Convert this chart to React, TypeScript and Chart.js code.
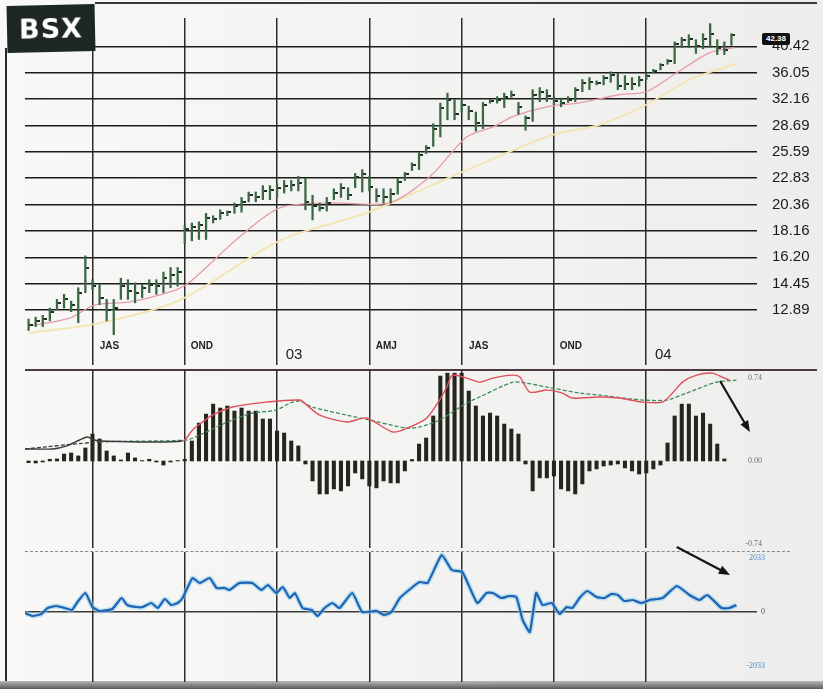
import { useEffect, useRef } from "react";
import { Chart, registerables } from "chart.js";

Chart.register(...registerables);

// ---------------- data ----------------
const ticker = "BSX";
const lastPriceTag = "42.38";

const quarterTicks = [9, 22, 35, 48, 61, 74, 87];
const quarterLabels = ["JAS", "OND", "03", "AMJ", "JAS", "OND", "04"];

const priceTicks = [12.89, 14.45, 16.2, 18.16, 20.36, 22.83, 25.59, 28.69, 32.16, 36.05, 40.42];

const highs = [
  12.4, 12.5, 12.6, 13.0, 13.5, 13.8, 13.4, 14.2, 16.3, 14.7,
  14.4, 13.5, 13.5, 14.8, 14.7, 14.5, 14.4, 14.7, 14.7, 15.2,
  15.5, 15.5, 18.6, 18.8, 18.9, 19.6, 19.4, 19.9, 19.8, 20.5,
  21.0, 21.5, 21.5, 22.1, 22.1, 22.3, 22.6, 22.6, 23.0, 22.8,
  21.2, 20.5, 21.0, 21.8, 22.3, 21.9, 23.3, 23.7, 23.0, 21.8,
  21.8, 21.8, 22.8, 23.4, 24.4, 25.5, 26.3, 28.9, 31.6, 33.0,
  32.1, 31.9, 31.2, 30.4, 31.7, 32.1, 32.5, 33.0, 33.3, 31.7,
  29.9, 33.5, 33.8, 33.5, 32.5, 32.3, 32.5, 33.8, 35.0, 35.3,
  34.8, 35.6, 36.2, 35.9, 35.6, 35.3, 35.5, 36.0, 36.6, 37.5,
  38.2, 41.2, 42.0, 42.5, 41.6, 42.7, 44.6, 41.6, 41.2, 42.7,
];
const lows = [
  11.8, 12.0, 12.0, 12.3, 12.9, 13.0, 12.8, 12.2, 13.9, 14.1,
  13.2, 12.3, 11.5, 13.5, 13.5, 13.3, 13.6, 13.9, 13.8, 13.9,
  14.2, 14.3, 17.2, 17.4, 17.5, 17.5, 18.8, 19.1, 19.4, 19.6,
  19.7, 20.6, 20.6, 20.8, 20.8, 21.0, 21.4, 21.6, 21.6, 19.9,
  19.05, 19.8, 19.8, 20.8, 21.0, 20.8, 21.9, 21.5, 21.6, 20.6,
  20.5, 20.5, 21.3, 22.6, 23.6, 23.7, 25.4, 26.2, 27.3, 29.4,
  29.4, 30.4, 29.4, 28.0, 28.3, 31.6, 31.6, 31.0, 32.4, 30.1,
  28.1, 29.2, 31.8, 31.8, 31.4, 31.1, 31.7, 31.8, 33.2, 33.5,
  34.2, 34.2, 34.6, 33.5, 33.5, 33.5, 34.0, 35.0, 36.0, 36.5,
  37.4, 37.5, 40.2, 40.2, 39.2, 40.0, 40.2, 39.0, 39.0, 40.6,
];
const closes = [
  12.1, 12.3, 12.4, 12.8, 13.3, 13.5, 13.2, 13.9, 15.5, 14.3,
  13.6, 12.9, 13.0, 14.3, 14.0, 13.9, 14.2, 14.4, 14.3, 14.8,
  15.0, 15.2, 18.3, 18.5, 18.6, 19.2, 19.1, 19.6, 19.7, 20.2,
  20.6, 21.2, 21.0, 21.6, 21.7, 21.9, 22.1, 22.2, 22.4, 20.6,
  20.2, 20.1, 20.5, 21.4, 21.9, 21.2, 22.9, 23.2, 22.0, 21.1,
  21.0, 21.3, 22.5, 23.2, 24.2, 25.2, 26.0, 28.3, 31.0, 32.0,
  30.2, 31.3, 30.6, 29.0, 31.4, 31.9, 32.1, 32.4, 32.8, 31.1,
  29.6, 32.8, 33.2, 32.6, 31.9, 31.6, 32.1, 33.4, 34.5, 34.6,
  34.5, 35.2, 35.7, 34.1, 34.3, 34.4, 35.0, 35.6, 36.3, 37.2,
  37.9, 40.8, 41.6, 41.8, 40.4, 41.8, 42.6, 40.2, 39.8, 42.4,
];

// moving averages: [week, price]
const maFast = [
  [0, 12.02], [5.8, 12.45], [9.3, 13.17], [14.2, 13.35], [20.7, 14.06], [22.7, 14.55],
  [29.7, 17.69], [35.4, 20.07], [42.4, 20.51], [50.8, 20.51], [56.5, 22.96], [61.7, 27.29],
  [65.4, 28.5], [68.2, 29.8], [73, 31.1], [77.6, 31.65], [83.2, 32.77], [87, 33.2],
  [91.3, 36.05], [95.9, 39.3], [99.4, 40.2],
];
const maSlow = [
  [0, 11.67], [10, 12.18], [21.3, 13.46], [35.6, 17.47], [48, 19.72], [61.1, 23.46],
  [73.8, 27.55], [80.4, 28.77], [87, 31.38], [93.1, 34.97], [99.7, 37.5],
];

const macdTicks = [0.74, 0, -0.74];
const histogram = [
  -0.015, -0.018, -0.009, 0.015, 0.018, 0.062, 0.071, 0.045, 0.116, 0.24,
  0.196, 0.089, 0.045, 0.009, 0.071, 0.027, 0.004, 0.015, -0.009, -0.036,
  -0.009, 0.004, 0.015, 0.178, 0.338, 0.418, 0.507, 0.472, 0.49, 0.445,
  0.472, 0.445, 0.445, 0.374, 0.374, 0.267, 0.249, 0.178, 0.134, -0.027,
  -0.178, -0.294, -0.294, -0.249, -0.267, -0.223, -0.107, -0.16, -0.223, -0.24,
  -0.178, -0.196, -0.196, -0.089, 0.013, 0.151, 0.205, 0.401, 0.757, 0.783,
  0.783, 0.783, 0.623, 0.49, 0.401, 0.427, 0.401, 0.329, 0.285, 0.24,
  -0.027, -0.267, -0.151, -0.151, -0.134, -0.249, -0.267, -0.294, -0.205, -0.089,
  -0.071, -0.045, -0.036, -0.027, -0.062, -0.089, -0.116, -0.107, -0.071, -0.036,
  0.16, 0.401, 0.507, 0.507, 0.401, 0.427, 0.329, 0.151, 0.018,
];
const macdLine = [
  [-0.5, 0.107], [3.4, 0.107], [5.4, 0.134], [7.2, 0.187], [8.3, 0.214], [9.3, 0.187],
  [10, 0.178], [21.7, 0.178], [23.1, 0.276], [24.5, 0.347], [25.9, 0.409], [28.7, 0.481],
  [33.5, 0.525], [38.2, 0.543], [39.2, 0.498], [41, 0.409], [44.8, 0.347], [47.6, 0.383],
  [51.3, 0.258], [53.7, 0.303], [56.1, 0.383], [57.9, 0.543], [58.9, 0.659], [59.7, 0.765],
  [61.7, 0.739], [63.5, 0.703], [65.4, 0.739], [68.2, 0.765], [69.2, 0.748], [70.6, 0.614],
  [73, 0.632], [75.2, 0.605], [76.6, 0.561], [80.4, 0.57], [83.2, 0.561], [86.5, 0.525],
  [89.3, 0.525], [90.7, 0.605], [92.1, 0.703], [94.1, 0.765], [96.3, 0.783], [97.7, 0.748],
  [98.7, 0.721],
];
const signalLine = [
  [-0.5, 0.107], [10, 0.169], [22.3, 0.187], [24.1, 0.231], [26.5, 0.303], [28.7, 0.365],
  [31.5, 0.427], [34.9, 0.454], [36.8, 0.516], [38.2, 0.534], [40, 0.481], [44.8, 0.409],
  [48, 0.365], [53.2, 0.294], [55.1, 0.303], [57.9, 0.365], [61.7, 0.516], [63.5, 0.57],
  [68.2, 0.703], [70.1, 0.694], [73, 0.659], [77.6, 0.605], [80.4, 0.587], [86.5, 0.543],
  [89.9, 0.543], [92.7, 0.605], [94.5, 0.65], [96.9, 0.703], [99.7, 0.721],
];

const oscTicks = [2033, 0, -2033];
const oscillator = [
  [-0.5, -38], [0.6, -151], [1.8, -75], [2.7, 151], [3.9, 226], [5.1, 151], [6.1, 75],
  [6.9, 377], [8.0, 715], [9.0, 188], [10.0, 38], [11.8, 113], [13.1, 527], [13.9, 264],
  [15.2, 188], [16.1, 188], [17.3, 339], [18.2, 151], [19.2, 489], [20.1, 264], [21.0, 339],
  [21.7, 527], [23.1, 1280], [24.1, 1092], [25.5, 1280], [26.5, 904], [27.6, 904], [28.3, 828],
  [29.7, 1092], [31.5, 1092], [32.8, 828], [33.7, 1017], [34.9, 715], [35.8, 941], [36.8, 527],
  [37.5, 715], [38.6, 151], [39.9, 75], [40.7, -151], [41.7, 151], [42.8, 339], [43.8, 151],
  [45.6, 715], [47.0, 0], [49.0, 38], [50.1, -113], [51.1, 0], [52.3, 527], [54.1, 941],
  [55.1, 1130], [56.2, 1092], [58.2, 2146], [59.6, 1581], [61.1, 1506], [63.2, 339],
  [64.5, 715], [65.4, 715], [66.6, 527], [67.7, 602], [68.7, 565], [69.6, -301], [70.6, -753],
  [71.5, 715], [72.4, 264], [73.7, 339], [74.8, -75], [75.8, 188], [76.6, 151], [77.6, 527],
  [78.7, 791], [80.0, 565], [81.1, 527], [82.1, 678], [83.0, 640], [83.9, 414], [85.1, 452],
  [86.3, 339], [87.5, 452], [89.3, 527], [91.3, 979], [93.1, 640], [94.5, 452], [95.6, 640],
  [97.6, 151], [98.7, 151], [99.7, 264],
];

// annotation arrows, in data units: [week, value]
const macdArrow = [[97.4, 0.713], [101.6, 0.259]];
const oscArrow = [[91.3, 2447], [98.8, 1393]];

// axis extents
const X_MIN = -0.5;
const X_MAX = 102.6;
const PRICE_MIN = 11.57;
const PRICE_MAX = 45.7;
const MACD_MIN = -0.776;
const MACD_MAX = 0.811;
const OSC_MIN = -2636;
const OSC_MAX = 2259;

// ---------------- helpers ----------------
const pts = (arr: number[][]) => arr.map(([x, y]) => ({ x, y }));

function xAxis(showLabels: boolean): any {
  return {
    type: "linear",
    min: X_MIN,
    max: X_MAX,
    offset: false,
    afterBuildTicks: (s: any) => {
      s.ticks = quarterTicks.map((v) => ({ value: v }));
    },
    afterFit: (s: any) => {
      s.height = showLabels ? 37 : 0;
      s.paddingLeft = 0;
      s.paddingRight = 0;
    },
    grid: {
      offset: false,
      color: "#2c2c2c",
      lineWidth: 1.5,
      drawTicks: showLabels,
      tickLength: 30,
    },
    border: { display: false },
    ticks: showLabels
      ? {
          autoSkip: false,
          maxRotation: 0,
          padding: -25,
          labelOffset: 17,
          color: "#1e1e1e",
          callback: (_v: any, i: number) => quarterLabels[i],
          font: (ctx: any) =>
            /^\d/.test(quarterLabels[ctx.index] || "")
              ? { family: "Liberation Sans", size: 15, lineHeight: 2.0 }
              : { family: "Liberation Sans", size: 10, weight: "bold", lineHeight: 1.2 },
        }
      : { display: false },
  };
}

function fixY(width: number) {
  return (s: any) => {
    s.width = width;
    s.paddingTop = 0;
    s.paddingBottom = 0;
  };
}

function arrowPlugin(id: string, a: number[][]) {
  return {
    id,
    afterDatasetsDraw(chart: any) {
      const { ctx, scales } = chart;
      const ax = scales.x.getPixelForValue(a[0][0]);
      const ay = scales.y.getPixelForValue(a[0][1]);
      const bx = scales.x.getPixelForValue(a[1][0]);
      const by = scales.y.getPixelForValue(a[1][1]);
      const ang = Math.atan2(by - ay, bx - ax);
      ctx.save();
      ctx.strokeStyle = "#141414";
      ctx.fillStyle = "#141414";
      ctx.lineWidth = 2.2;
      ctx.beginPath();
      ctx.moveTo(ax, ay);
      ctx.lineTo(bx - 8 * Math.cos(ang), by - 8 * Math.sin(ang));
      ctx.stroke();
      ctx.beginPath();
      ctx.moveTo(bx, by);
      ctx.lineTo(bx - 12 * Math.cos(ang - 0.38), by - 12 * Math.sin(ang - 0.38));
      ctx.lineTo(bx - 12 * Math.cos(ang + 0.38), by - 12 * Math.sin(ang + 0.38));
      ctx.closePath();
      ctx.fill();
      ctx.restore();
    },
  };
}

const common: any = {
  animation: false,
  responsive: false,
  events: [],
  plugins: { legend: { display: false }, tooltip: { enabled: false } },
};

export default function App() {
  const priceRef = useRef<HTMLCanvasElement>(null);
  const macdRef = useRef<HTMLCanvasElement>(null);
  const oscRef = useRef<HTMLCanvasElement>(null);

  useEffect(() => {
    // close tick marker (right-hand tick of an OHLC bar)
    const tick = document.createElement("canvas");
    tick.width = 8;
    tick.height = 2;
    const tctx = tick.getContext("2d")!;
    tctx.fillStyle = "#1f2f22";
    tctx.fillRect(4, 0, 4, 2);

    const priceChart = new Chart(priceRef.current!, {
      type: "bar",
      data: {
        datasets: [
          {
            type: "bar",
            data: highs.map((h, i) => ({ x: i, y: [lows[i], h] })) as any,
            backgroundColor: "#3a6843",
            borderWidth: 0,
            barThickness: 1.6,
          } as any,
          {
            type: "scatter",
            data: closes.map((c, i) => ({ x: i, y: c })),
            pointStyle: tick,
            pointRadius: 3,
            showLine: false,
          } as any,
          {
            type: "line",
            data: pts(maFast),
            borderColor: "#e79aaa",
            borderWidth: 1.3,
            pointRadius: 0,
            tension: 0.3,
          },
          {
            type: "line",
            data: pts(maSlow),
            borderColor: "#f4e4ad",
            borderWidth: 1.8,
            pointRadius: 0,
            tension: 0.3,
          },
        ],
      },
      options: {
        ...common,
        layout: { padding: { top: 18, left: 25, right: 0, bottom: 0 } },
        scales: {
          x: xAxis(true),
          y: {
            type: "logarithmic",
            position: "right",
            min: PRICE_MIN,
            max: PRICE_MAX,
            afterBuildTicks: (s: any) => {
              s.ticks = priceTicks.map((v) => ({ value: v }));
            },
            afterFit: fixY(66),
            grid: { color: "#1c1c1c", lineWidth: 1.6, drawTicks: false },
            border: { display: false },
            ticks: {
              autoSkip: false,
              padding: 15,
              crossAlign: "near",
              color: "#1a1a1a",
              font: { family: "Liberation Sans", size: 15 },
              callback: (v: any) => Number(v).toFixed(2),
            },
          } as any,
        },
      },
    });

    const macdChart = new Chart(macdRef.current!, {
      type: "bar",
      data: {
        datasets: [
          {
            type: "line",
            data: pts(macdLine),
            borderColor: "#e0505c",
            borderWidth: 1.4,
            pointRadius: 0,
            tension: 0.25,
            segment: { borderColor: (c: any) => (c.p1.parsed.x <= 22 ? "#3a3a3a" : undefined) },
          } as any,
          {
            type: "line",
            data: pts(signalLine),
            borderColor: "#3c8c5c",
            borderWidth: 1.3,
            borderDash: [4, 2],
            pointRadius: 0,
            tension: 0.25,
            segment: { borderColor: (c: any) => (c.p1.parsed.x <= 22 ? "#3a3a3a" : undefined) },
          } as any,
          {
            type: "bar",
            data: histogram.map((v, i) => ({ x: i, y: v })),
            backgroundColor: "#26251c",
            borderWidth: 0,
            barThickness: 3.4,
          } as any,
        ],
      },
      options: {
        ...common,
        layout: { padding: { top: 0, left: 25, right: 0, bottom: 0 } },
        scales: {
          x: xAxis(false),
          y: {
            type: "linear",
            position: "right",
            min: MACD_MIN,
            max: MACD_MAX,
            afterBuildTicks: (s: any) => {
              s.ticks = macdTicks.map((v) => ({ value: v }));
            },
            afterFit: fixY(66),
            grid: { display: false },
            border: { display: false },
            ticks: {
              autoSkip: false,
              mirror: true,
              padding: 5,
              crossAlign: "near",
              color: "#707070",
              font: { family: "Liberation Serif", size: 8 },
              callback: (v: any) => Number(v).toFixed(2),
            },
          } as any,
        },
      },
      plugins: [arrowPlugin("macdArrow", macdArrow)],
    });

    const oscChart = new Chart(oscRef.current!, {
      type: "line",
      data: {
        datasets: [
          {
            data: pts(oscillator),
            borderColor: "#1f63b5",
            borderWidth: 2.2,
            pointRadius: 0,
            tension: 0.15,
          },
          {
            data: pts(oscillator),
            borderColor: "rgba(140,205,235,0.55)",
            borderWidth: 5,
            pointRadius: 0,
            tension: 0.15,
          },
        ],
      },
      options: {
        ...common,
        layout: { padding: { top: 12, left: 25, right: 0, bottom: 7 } },
        scales: {
          x: xAxis(false),
          y: {
            type: "linear",
            position: "right",
            min: OSC_MIN,
            max: OSC_MAX,
            afterBuildTicks: (s: any) => {
              s.ticks = oscTicks.map((v) => ({ value: v }));
            },
            afterFit: fixY(66),
            grid: {
              drawTicks: false,
              lineWidth: 1.6,
              color: (c: any) => (c.tick && c.tick.value === 0 ? "#3a3a3a" : "rgba(0,0,0,0)"),
            },
            border: { display: false },
            ticks: {
              autoSkip: false,
              mirror: true,
              padding: 8,
              crossAlign: "near",
              color: (c: any) => (c.tick && c.tick.value === 0 ? "#4a5a6a" : "#4a8ac8"),
              font: { family: "Liberation Serif", size: 8 },
              callback: (v: any) => String(v),
            },
          } as any,
        },
      },
      plugins: [arrowPlugin("oscArrow", oscArrow)],
    });

    return () => {
      priceChart.destroy();
      macdChart.destroy();
      oscChart.destroy();
    };
  }, []);

  return (
    <div
      style={{
        position: "absolute",
        left: 0,
        top: 0,
        width: 823,
        height: 689,
        overflow: "hidden",
        background: "linear-gradient(90deg, #f8f8f6 0%, #f2f2f0 60%, #ededeb 100%)",
      }}
    >
      {/* frame and panel separators */}
      <div style={{ position: "absolute", left: 95, top: 2, width: 722, height: 2, background: "#3a3a3a" }} />
      <div style={{ position: "absolute", left: 5, top: 48, width: 2, height: 641, background: "#2a2a2a" }} />
      <div style={{ position: "absolute", left: 25, top: 369, width: 792, height: 2, background: "#4d3a3e" }} />
      <div style={{ position: "absolute", left: 25, top: 551, width: 765, height: 0, borderTop: "1.5px dashed #8a8a8a" }} />
      <div
        style={{
          position: "absolute",
          left: 0,
          top: 681,
          width: 823,
          height: 8,
          background: "linear-gradient(180deg, #b8b8b8 0%, #5a5a5a 100%)",
        }}
      />

      <canvas ref={priceRef} width={823} height={372} style={{ position: "absolute", left: 0, top: 0 }} />
      <canvas ref={macdRef} width={823} height={178} style={{ position: "absolute", left: 0, top: 370 }} />
      <canvas ref={oscRef} width={823} height={149} style={{ position: "absolute", left: 0, top: 540 }} />

      {/* ticker badge */}
      <div
        style={{
          position: "absolute",
          left: 7,
          top: 5,
          width: 88,
          height: 47,
          background: "#1d2822",
          transform: "rotate(-1.2deg)",
          display: "flex",
          alignItems: "center",
          justifyContent: "center",
          color: "#ffffff",
          fontFamily: "DejaVu Sans",
          fontWeight: "bold",
          fontSize: 27,
          letterSpacing: 1,
        }}
      >
        {ticker}
      </div>

      {/* last price tag */}
      <div
        style={{
          position: "absolute",
          left: 762,
          top: 33,
          width: 28,
          height: 12,
          background: "#111",
          borderRadius: 2,
          color: "#fff",
          fontFamily: "Liberation Sans",
          fontSize: 8,
          fontWeight: "bold",
          lineHeight: "12px",
          textAlign: "center",
        }}
      >
        {lastPriceTag}
      </div>
    </div>
  );
}
